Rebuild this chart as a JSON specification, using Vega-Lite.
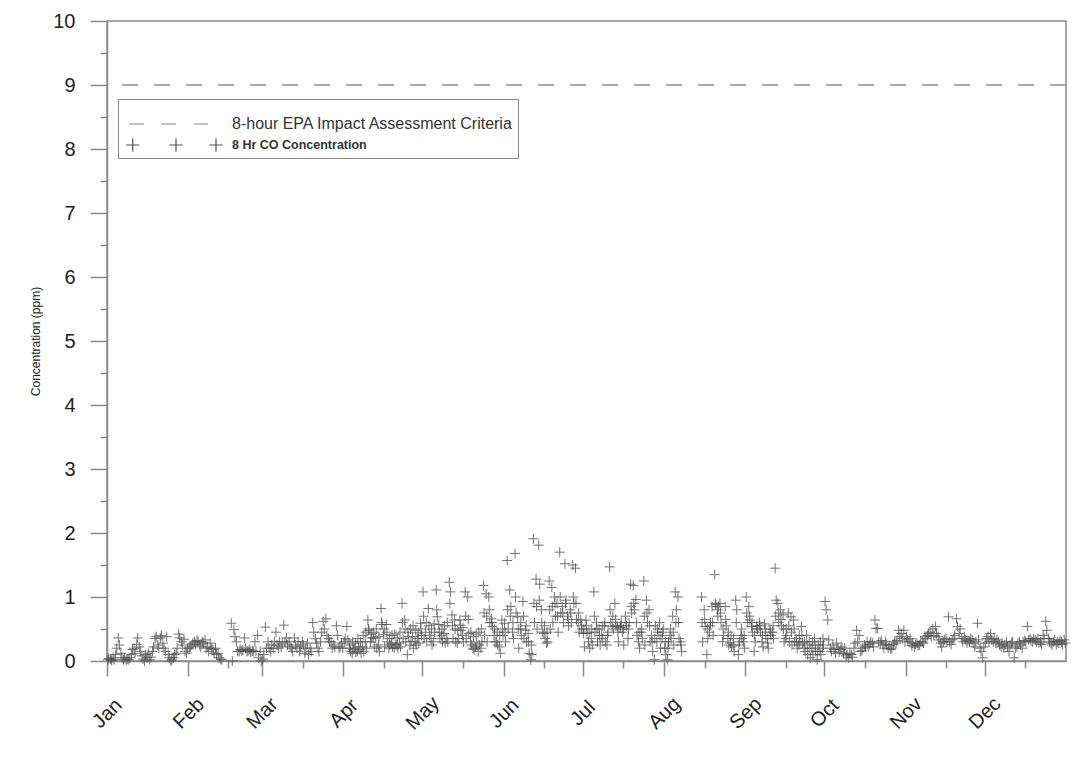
{
"$schema":"https://vega.github.io/schema/vega-lite/v6.json",
"width":959,"height":640,
"autosize":"none",
"padding":{"left":107,"top":21,"right":15,"bottom":114},
"background":"white",
"config":{"font":"Liberation Sans","view":{"stroke":"#8a8a8a","strokeWidth":1.5}},
"resolve":{"axis":{"x":"independent","y":"independent"}},
"layer":[
{"data":{"values":[{}]},
 "mark":{"type":"rule","strokeDash":[16,16],"strokeWidth":1.5},
 "encoding":{
  "y":{"datum":9,"type":"quantitative","scale":{"domain":[0,10],"nice":false},"axis":null},
  "color":{"datum":"8-hour EPA Impact Assessment Criteria","scale":{"domain":["8-hour EPA Impact Assessment Criteria","8 Hr CO Concentration"],"range":["#8c8c8c","#505050"]},
   "legend":{"orient":"none","legendX":11,"legendY":78,"title":" ","titleFontSize":6,"titlePadding":4,"padding":4,"strokeColor":"#8a8a8a","fillColor":"white","symbolSize":400,"symbolStrokeWidth":1.2,"labelOffset":88,"labelFontSize":16,"labelColor":"#333333","labelLimit":400,"rowPadding":2,
    "encode":{"symbols":{"update":{"shape":{"signal":"datum.value === '8 Hr CO Concentration' ? 'M-0.68,0H0.62M-0.03,-0.65V0.65M3.65,0H4.95M4.3,-0.65V0.65M7.65,0H8.95M8.3,-0.65V0.65' : 'M-0.4,0H1.1M2.8,0H4.3M6.1,0H7.5'"},"strokeDash":{"value":[]},"fill":{"value":"transparent"},"strokeWidth":{"value":1.2}}},
     "labels":{"update":{"fontSize":{"signal":"datum.value === '8 Hr CO Concentration' ? 12.5 : 16"},"fontWeight":{"signal":"datum.value === '8 Hr CO Concentration' ? 'bold' : 'normal'"}}}}}}
 }},
{"data":{"values":[
{"d":0.3,"c":0.02},{"d":0.7,"c":0.04},{"d":1.3,"c":0.03},{"d":1.7,"c":0.01},{"d":2.3,"c":0.05},{"d":2.7,"c":0.02},{"d":3.3,"c":0.1},{"d":3.7,"c":0.2},{"d":4.3,"c":0.36},{"d":4.7,"c":0.25},
{"d":5.3,"c":0.12},{"d":5.7,"c":0.05},{"d":6.3,"c":0.02},{"d":6.7,"c":0.05},{"d":7.3,"c":0.01},{"d":7.7,"c":0.03},{"d":8.3,"c":0.02},{"d":8.7,"c":0.05},{"d":9.3,"c":0.1},{"d":9.7,"c":0.18},
{"d":10.3,"c":0.2},{"d":10.7,"c":0.12},{"d":11.3,"c":0.26},{"d":11.7,"c":0.36},{"d":12.3,"c":0.22},{"d":12.7,"c":0.15},{"d":13.3,"c":0.08},{"d":13.7,"c":0.03},{"d":14.3,"c":0.0},{"d":14.7,"c":0.1},
{"d":15.3,"c":0.05},{"d":15.7,"c":0.12},{"d":16.3,"c":0.02},{"d":16.7,"c":0.06},{"d":17.3,"c":0.15},{"d":17.7,"c":0.22},{"d":18.3,"c":0.35},{"d":18.7,"c":0.38},{"d":19.3,"c":0.25},{"d":19.7,"c":0.2},
{"d":20.3,"c":0.36},{"d":20.7,"c":0.4},{"d":21.3,"c":0.28},{"d":21.7,"c":0.2},{"d":22.3,"c":0.15},{"d":22.7,"c":0.38},{"d":23.3,"c":0.1},{"d":23.7,"c":0.05},{"d":24.3,"c":0.0},{"d":24.7,"c":0.02},
{"d":25.3,"c":0.05},{"d":25.7,"c":0.1},{"d":26.3,"c":0.12},{"d":26.7,"c":0.2},{"d":27.3,"c":0.42},{"d":27.7,"c":0.36},{"d":28.3,"c":0.3},{"d":28.7,"c":0.25},{"d":29.3,"c":0.34},{"d":29.7,"c":0.15},
{"d":30.3,"c":0.12},{"d":30.7,"c":0.2},{"d":31.3,"c":0.2},{"d":31.7,"c":0.22},{"d":32.3,"c":0.25},{"d":32.7,"c":0.28},{"d":33.3,"c":0.3},{"d":33.7,"c":0.26},{"d":34.3,"c":0.32},{"d":34.7,"c":0.3},
{"d":35.3,"c":0.25},{"d":35.7,"c":0.22},{"d":36.3,"c":0.3},{"d":36.7,"c":0.28},{"d":37.3,"c":0.33},{"d":37.7,"c":0.2},{"d":38.3,"c":0.22},{"d":38.7,"c":0.15},{"d":39.3,"c":0.28},{"d":39.7,"c":0.2},
{"d":40.3,"c":0.18},{"d":40.7,"c":0.12},{"d":41.3,"c":0.2},{"d":41.7,"c":0.1},{"d":42.3,"c":0.12},{"d":42.7,"c":0.05},{"d":43.3,"c":0.03},{"d":43.7,"c":0.02},
{"d":47.3,"c":0.59},{"d":47.7,"c":0.0},{"d":48.3,"c":0.49},{"d":48.7,"c":0.38},{"d":49.3,"c":0.3},{"d":49.7,"c":0.15},
{"d":50.3,"c":0.15},{"d":50.7,"c":0.18},{"d":51.3,"c":0.16},{"d":51.7,"c":0.17},{"d":52.3,"c":0.36},{"d":52.7,"c":0.2},{"d":53.3,"c":0.15},{"d":53.7,"c":0.16},{"d":54.3,"c":0.18},{"d":54.7,"c":0.14},
{"d":55.3,"c":0.16},{"d":55.7,"c":0.15},{"d":56.3,"c":0.3},{"d":56.7,"c":0.15},{"d":57.3,"c":0.4},{"d":57.7,"c":0.05},{"d":58.3,"c":0.15},{"d":58.7,"c":0.0},{"d":59.3,"c":0.03},{"d":59.7,"c":0.1},
{"d":60.3,"c":0.53},{"d":60.7,"c":0.2},{"d":61.3,"c":0.3},{"d":61.7,"c":0.2},{"d":62.3,"c":0.15},{"d":62.7,"c":0.25},{"d":63.3,"c":0.2},{"d":63.7,"c":0.3},{"d":64.3,"c":0.45},{"d":64.7,"c":0.25},
{"d":65.3,"c":0.2},{"d":65.7,"c":0.3},{"d":66.3,"c":0.22},{"d":66.7,"c":0.28},{"d":67.3,"c":0.56},{"d":67.7,"c":0.3},{"d":68.3,"c":0.36},{"d":68.7,"c":0.25},{"d":69.3,"c":0.3},{"d":69.7,"c":0.22},
{"d":70.3,"c":0.2},{"d":70.7,"c":0.15},{"d":71.3,"c":0.36},{"d":71.7,"c":0.25},{"d":72.3,"c":0.2},{"d":72.7,"c":0.3},{"d":73.3,"c":0.15},{"d":73.7,"c":0.22},{"d":74.3,"c":0.3},{"d":74.7,"c":0.25},
{"d":75.3,"c":0.12},{"d":75.7,"c":0.2},{"d":76.3,"c":0.28},{"d":76.7,"c":0.1},{"d":77.3,"c":0.2},{"d":77.7,"c":0.15},{"d":78.3,"c":0.6},{"d":78.7,"c":0.45},{"d":79.3,"c":0.35},{"d":79.7,"c":0.28},
{"d":80.3,"c":0.2},{"d":80.7,"c":0.15},{"d":81.3,"c":0.3},{"d":81.7,"c":0.45},{"d":82.3,"c":0.62},{"d":82.7,"c":0.5},{"d":83.3,"c":0.66},{"d":83.7,"c":0.4},{"d":84.3,"c":0.35},{"d":84.7,"c":0.3},
{"d":85.3,"c":0.3},{"d":85.7,"c":0.2},{"d":86.3,"c":0.25},{"d":86.7,"c":0.22},{"d":87.3,"c":0.55},{"d":87.7,"c":0.4},{"d":88.3,"c":0.2},{"d":88.7,"c":0.22},{"d":89.3,"c":0.28},{"d":89.7,"c":0.2},
{"d":90.3,"c":0.3},{"d":90.7,"c":0.35},{"d":91.3,"c":0.54},{"d":91.7,"c":0.33},{"d":92.3,"c":0.2},{"d":92.7,"c":0.15},{"d":93.3,"c":0.12},{"d":93.7,"c":0.18},{"d":94.3,"c":0.2},{"d":94.7,"c":0.14},
{"d":95.3,"c":0.15},{"d":95.7,"c":0.22},{"d":96.3,"c":0.18},{"d":96.7,"c":0.12},{"d":97.3,"c":0.22},{"d":97.7,"c":0.15},{"d":98.3,"c":0.3},{"d":98.7,"c":0.2},{"d":99.3,"c":0.64},{"d":99.7,"c":0.48},
{"d":100.3,"c":0.3},{"d":100.7,"c":0.36},{"d":101.3,"c":0.36},{"d":101.7,"c":0.22},{"d":102.3,"c":0.36},{"d":102.7,"c":0.2},{"d":103.3,"c":0.25},{"d":103.7,"c":0.15},{"d":104.3,"c":0.82},{"d":104.7,"c":0.57},
{"d":105.3,"c":0.41},{"d":105.7,"c":0.22},{"d":106.3,"c":0.57},{"d":106.7,"c":0.3},{"d":107.3,"c":0.2},{"d":107.7,"c":0.25},{"d":108.3,"c":0.28},{"d":108.7,"c":0.22},{"d":109.3,"c":0.2},{"d":109.7,"c":0.26},
{"d":110.3,"c":0.25},{"d":110.7,"c":0.2},{"d":111.3,"c":0.28},{"d":111.7,"c":0.22},{"d":112.3,"c":0.9},{"d":112.7,"c":0.35},{"d":113.3,"c":0.64},{"d":113.7,"c":0.3},{"d":114.3,"c":0.1},{"d":114.7,"c":0.38},
{"d":115.3,"c":0.25},{"d":115.7,"c":0.3},{"d":116.3,"c":0.38},{"d":116.7,"c":0.2},{"d":117.3,"c":0.3},{"d":117.7,"c":0.25},{"d":118.3,"c":0.35},{"d":118.7,"c":0.28},{"d":119.3,"c":0.59},{"d":119.7,"c":0.4},
{"d":120.3,"c":1.08},{"d":120.7,"c":0.35},{"d":121.3,"c":0.45},{"d":121.7,"c":0.3},{"d":122.3,"c":0.82},{"d":122.7,"c":0.4},{"d":123.3,"c":0.35},{"d":123.7,"c":0.25},{"d":124.3,"c":0.3},{"d":124.7,"c":0.45},
{"d":125.3,"c":1.11},{"d":125.7,"c":0.69},{"d":126.3,"c":0.57},{"d":126.7,"c":0.35},{"d":127.3,"c":0.4},{"d":127.7,"c":0.3},{"d":128.3,"c":0.43},{"d":128.7,"c":0.28},{"d":129.3,"c":0.35},{"d":129.7,"c":0.3},
{"d":130.3,"c":1.23},{"d":130.7,"c":1.08},{"d":131.3,"c":0.72},{"d":131.7,"c":0.35},{"d":132.3,"c":0.64},{"d":132.7,"c":0.3},{"d":133.3,"c":0.28},{"d":133.7,"c":0.35},{"d":134.3,"c":0.64},{"d":134.7,"c":0.48},
{"d":135.3,"c":0.4},{"d":135.7,"c":0.3},{"d":136.3,"c":1.08},{"d":136.7,"c":0.35},{"d":137.3,"c":1.0},{"d":137.7,"c":0.43},{"d":138.3,"c":0.3},{"d":138.7,"c":0.25},{"d":139.3,"c":0.2},{"d":139.7,"c":0.18},
{"d":140.3,"c":0.22},{"d":140.7,"c":0.28},{"d":141.3,"c":0.15},{"d":141.7,"c":0.25},{"d":142.3,"c":0.2},{"d":142.7,"c":0.3},{"d":143.3,"c":1.18},{"d":143.7,"c":0.4},{"d":144.3,"c":1.05},{"d":144.7,"c":0.3},
{"d":145.3,"c":1.0},{"d":145.7,"c":0.6},{"d":146.3,"c":0.66},{"d":146.7,"c":0.54},{"d":147.3,"c":0.4},{"d":147.7,"c":0.3},{"d":148.3,"c":0.3},{"d":148.7,"c":0.25},{"d":149.3,"c":0.22},{"d":149.7,"c":0.12},
{"d":150.3,"c":0.64},{"d":150.7,"c":0.4},{"d":151.3,"c":0.59},{"d":151.7,"c":0.3},{"d":152.3,"c":1.57},{"d":152.7,"c":0.5},{"d":153.3,"c":1.11},{"d":153.7,"c":0.85},{"d":154.3,"c":0.45},{"d":154.7,"c":0.35},
{"d":155.3,"c":1.68},{"d":155.7,"c":0.75},{"d":156.3,"c":0.69},{"d":156.7,"c":0.2},{"d":157.3,"c":0.5},{"d":157.7,"c":0.4},{"d":158.3,"c":0.93},{"d":158.7,"c":0.35},{"d":159.3,"c":0.48},{"d":159.7,"c":0.3},
{"d":160.3,"c":0.43},{"d":160.7,"c":0.12},{"d":161.3,"c":0.02},{"d":161.7,"c":0.1},{"d":162.3,"c":1.91},{"d":162.7,"c":0.6},{"d":163.3,"c":1.28},{"d":163.7,"c":0.5},{"d":164.3,"c":1.81},{"d":164.7,"c":1.2},
{"d":165.3,"c":0.8},{"d":165.7,"c":0.45},{"d":166.3,"c":0.43},{"d":166.7,"c":0.35},{"d":167.3,"c":0.28},{"d":167.7,"c":0.3},{"d":168.3,"c":1.25},{"d":168.7,"c":0.5},{"d":169.3,"c":1.15},{"d":169.7,"c":0.6},
{"d":170.3,"c":1.0},{"d":170.7,"c":0.7},{"d":171.3,"c":0.9},{"d":171.7,"c":0.45},{"d":172.3,"c":1.7},{"d":172.7,"c":0.75},{"d":173.3,"c":0.85},{"d":173.7,"c":0.6},{"d":174.3,"c":1.52},{"d":174.7,"c":0.95},
{"d":175.3,"c":0.7},{"d":175.7,"c":0.55},{"d":176.3,"c":0.8},{"d":176.7,"c":0.6},{"d":177.3,"c":1.5},{"d":177.7,"c":0.9},{"d":178.3,"c":1.45},{"d":178.7,"c":0.65},{"d":179.3,"c":0.6},{"d":179.7,"c":0.45},
{"d":180.3,"c":0.64},{"d":180.7,"c":0.5},{"d":181.3,"c":0.43},{"d":181.7,"c":0.22},{"d":182.3,"c":0.64},{"d":182.7,"c":0.43},{"d":183.3,"c":0.3},{"d":183.7,"c":0.2},{"d":184.3,"c":0.35},{"d":184.7,"c":0.25},
{"d":185.3,"c":1.08},{"d":185.7,"c":0.45},{"d":186.3,"c":0.6},{"d":186.7,"c":0.3},{"d":187.3,"c":0.5},{"d":187.7,"c":0.25},{"d":188.3,"c":0.4},{"d":188.7,"c":0.35},{"d":189.3,"c":0.55},{"d":189.7,"c":0.3},
{"d":190.3,"c":0.25},{"d":190.7,"c":0.45},{"d":191.3,"c":1.47},{"d":191.7,"c":0.6},{"d":192.3,"c":0.54},{"d":192.7,"c":0.5},{"d":193.3,"c":0.9},{"d":193.7,"c":0.55},{"d":194.3,"c":0.54},{"d":194.7,"c":0.3},
{"d":195.3,"c":0.52},{"d":195.7,"c":0.6},{"d":196.3,"c":0.45},{"d":196.7,"c":0.25},{"d":197.3,"c":0.7},{"d":197.7,"c":0.55},{"d":198.3,"c":0.35},{"d":198.7,"c":0.6},{"d":199.3,"c":1.2},{"d":199.7,"c":0.75},
{"d":200.3,"c":1.18},{"d":200.7,"c":0.8},{"d":201.3,"c":0.96},{"d":201.7,"c":0.4},{"d":202.3,"c":0.3},{"d":202.7,"c":0.2},{"d":203.3,"c":0.45},{"d":203.7,"c":0.35},{"d":204.3,"c":1.25},{"d":204.7,"c":0.25},
{"d":205.3,"c":0.95},{"d":205.7,"c":0.6},{"d":206.3,"c":0.8},{"d":206.7,"c":0.3},{"d":207.3,"c":0.4},{"d":207.7,"c":0.15},{"d":208.3,"c":0.02},{"d":208.7,"c":0.55},{"d":209.3,"c":0.3},{"d":209.7,"c":0.45},
{"d":210.3,"c":0.6},{"d":210.7,"c":0.2},{"d":211.3,"c":0.35},{"d":211.7,"c":0.5},{"d":212.3,"c":0.2},{"d":212.7,"c":0.1},{"d":213.3,"c":0.02},{"d":213.7,"c":0.3},{"d":214.3,"c":0.4},{"d":214.7,"c":0.35},
{"d":215.3,"c":0.7},{"d":215.7,"c":0.25},{"d":216.3,"c":1.08},{"d":216.7,"c":0.8},{"d":217.3,"c":1.0},{"d":217.7,"c":0.35},{"d":218.3,"c":0.3},{"d":218.7,"c":0.15},
{"d":226.3,"c":1.0},{"d":226.7,"c":0.3},{"d":227.3,"c":0.8},{"d":227.7,"c":0.54},{"d":228.3,"c":0.1},{"d":228.7,"c":0.35},{"d":229.3,"c":0.45},{"d":229.7,"c":0.6},
{"d":230.3,"c":0.85},{"d":230.7,"c":0.4},{"d":231.3,"c":1.35},{"d":231.7,"c":0.88},{"d":232.3,"c":0.8},{"d":232.7,"c":0.85},{"d":233.3,"c":0.9},{"d":233.7,"c":0.6},{"d":234.3,"c":0.3},{"d":234.7,"c":0.4},
{"d":235.3,"c":0.85},{"d":235.7,"c":0.55},{"d":236.3,"c":0.35},{"d":236.7,"c":0.25},{"d":237.3,"c":0.28},{"d":237.7,"c":0.22},{"d":238.3,"c":0.25},{"d":238.7,"c":0.15},{"d":239.3,"c":0.95},{"d":239.7,"c":0.8},
{"d":240.3,"c":0.1},{"d":240.7,"c":0.3},{"d":241.3,"c":0.4},{"d":241.7,"c":0.35},{"d":242.3,"c":0.3},{"d":242.7,"c":0.2},{"d":243.3,"c":1.0},{"d":243.7,"c":0.6},{"d":244.3,"c":0.85},{"d":244.7,"c":0.64},
{"d":245.3,"c":0.54},{"d":245.7,"c":0.45},{"d":246.3,"c":0.15},{"d":246.7,"c":0.3},{"d":247.3,"c":0.55},{"d":247.7,"c":0.5},{"d":248.3,"c":0.6},{"d":248.7,"c":0.45},{"d":249.3,"c":0.3},{"d":249.7,"c":0.22},
{"d":250.3,"c":0.58},{"d":250.7,"c":0.4},{"d":251.3,"c":0.28},{"d":251.7,"c":0.2},{"d":252.3,"c":0.5},{"d":252.7,"c":0.4},{"d":253.3,"c":0.45},{"d":253.7,"c":0.35},{"d":254.3,"c":1.45},{"d":254.7,"c":0.95},
{"d":255.3,"c":0.9},{"d":255.7,"c":0.6},{"d":256.3,"c":0.8},{"d":256.7,"c":0.55},{"d":257.3,"c":0.72},{"d":257.7,"c":0.3},{"d":258.3,"c":0.35},{"d":258.7,"c":0.4},{"d":259.3,"c":0.75},{"d":259.7,"c":0.3},
{"d":260.3,"c":0.69},{"d":260.7,"c":0.25},{"d":261.3,"c":0.64},{"d":261.7,"c":0.3},{"d":262.3,"c":0.35},{"d":262.7,"c":0.2},{"d":263.3,"c":0.25},{"d":263.7,"c":0.3},{"d":264.3,"c":0.54},{"d":264.7,"c":0.28},
{"d":265.3,"c":0.2},{"d":265.7,"c":0.15},{"d":266.3,"c":0.4},{"d":266.7,"c":0.1},{"d":267.3,"c":0.3},{"d":267.7,"c":0.05},{"d":268.3,"c":0.2},{"d":268.7,"c":0.1},{"d":269.3,"c":0.35},{"d":269.7,"c":0.15},
{"d":270.3,"c":0.02},{"d":270.7,"c":0.25},{"d":271.3,"c":0.15},{"d":271.7,"c":0.1},{"d":272.3,"c":0.2},{"d":272.7,"c":0.25},{"d":273.3,"c":0.93},{"d":273.7,"c":0.8},{"d":274.3,"c":0.64},{"d":274.7,"c":0.33},
{"d":275.3,"c":0.2},{"d":275.7,"c":0.15},{"d":276.3,"c":0.25},{"d":276.7,"c":0.18},{"d":277.3,"c":0.12},{"d":277.7,"c":0.28},{"d":278.3,"c":0.2},{"d":278.7,"c":0.14},{"d":279.3,"c":0.18},{"d":279.7,"c":0.22},
{"d":280.3,"c":0.12},{"d":280.7,"c":0.2},{"d":281.3,"c":0.08},{"d":281.7,"c":0.1},{"d":282.3,"c":0.05},{"d":282.7,"c":0.12},{"d":283.3,"c":0.1},{"d":283.7,"c":0.06},{"d":284.3,"c":0.2},{"d":284.7,"c":0.28},
{"d":285.3,"c":0.48},{"d":285.7,"c":0.3},{"d":286.3,"c":0.4},{"d":286.7,"c":0.15},{"d":287.3,"c":0.16},{"d":287.7,"c":0.2},{"d":288.3,"c":0.25},{"d":288.7,"c":0.22},{"d":289.3,"c":0.3},{"d":289.7,"c":0.22},
{"d":290.3,"c":0.26},{"d":290.7,"c":0.3},{"d":291.3,"c":0.28},{"d":291.7,"c":0.22},{"d":292.3,"c":0.64},{"d":292.7,"c":0.51},{"d":293.3,"c":0.51},{"d":293.7,"c":0.3},{"d":294.3,"c":0.28},{"d":294.7,"c":0.32},
{"d":295.3,"c":0.25},{"d":295.7,"c":0.2},{"d":296.3,"c":0.3},{"d":296.7,"c":0.26},{"d":297.3,"c":0.2},{"d":297.7,"c":0.24},{"d":298.3,"c":0.18},{"d":298.7,"c":0.2},{"d":299.3,"c":0.26},{"d":299.7,"c":0.3},
{"d":300.3,"c":0.28},{"d":300.7,"c":0.32},{"d":301.3,"c":0.48},{"d":301.7,"c":0.38},{"d":302.3,"c":0.43},{"d":302.7,"c":0.35},{"d":303.3,"c":0.48},{"d":303.7,"c":0.3},{"d":304.3,"c":0.38},{"d":304.7,"c":0.33},
{"d":305.3,"c":0.3},{"d":305.7,"c":0.35},{"d":306.3,"c":0.24},{"d":306.7,"c":0.28},{"d":307.3,"c":0.22},{"d":307.7,"c":0.26},{"d":308.3,"c":0.28},{"d":308.7,"c":0.24},{"d":309.3,"c":0.25},{"d":309.7,"c":0.3},
{"d":310.3,"c":0.3},{"d":310.7,"c":0.28},{"d":311.3,"c":0.38},{"d":311.7,"c":0.35},{"d":312.3,"c":0.4},{"d":312.7,"c":0.43},{"d":313.3,"c":0.45},{"d":313.7,"c":0.38},{"d":314.3,"c":0.5},{"d":314.7,"c":0.4},
{"d":315.3,"c":0.54},{"d":315.7,"c":0.43},{"d":316.3,"c":0.38},{"d":316.7,"c":0.33},{"d":317.3,"c":0.28},{"d":317.7,"c":0.22},{"d":318.3,"c":0.3},{"d":318.7,"c":0.33},{"d":319.3,"c":0.35},{"d":319.7,"c":0.3},
{"d":320.3,"c":0.69},{"d":320.7,"c":0.3},{"d":321.3,"c":0.26},{"d":321.7,"c":0.33},{"d":322.3,"c":0.35},{"d":322.7,"c":0.4},{"d":323.3,"c":0.66},{"d":323.7,"c":0.54},{"d":324.3,"c":0.43},{"d":324.7,"c":0.5},
{"d":325.3,"c":0.35},{"d":325.7,"c":0.3},{"d":326.3,"c":0.38},{"d":326.7,"c":0.33},{"d":327.3,"c":0.28},{"d":327.7,"c":0.32},{"d":328.3,"c":0.3},{"d":328.7,"c":0.35},{"d":329.3,"c":0.33},{"d":329.7,"c":0.28},
{"d":330.3,"c":0.22},{"d":330.7,"c":0.3},{"d":331.3,"c":0.59},{"d":331.7,"c":0.33},{"d":332.3,"c":0.2},{"d":332.7,"c":0.15},{"d":333.3,"c":0.05},{"d":333.7,"c":0.22},{"d":334.3,"c":0.28},{"d":334.7,"c":0.35},
{"d":335.3,"c":0.38},{"d":335.7,"c":0.3},{"d":336.3,"c":0.43},{"d":336.7,"c":0.33},{"d":337.3,"c":0.3},{"d":337.7,"c":0.35},{"d":338.3,"c":0.28},{"d":338.7,"c":0.33},{"d":339.3,"c":0.3},{"d":339.7,"c":0.25},
{"d":340.3,"c":0.22},{"d":340.7,"c":0.28},{"d":341.3,"c":0.2},{"d":341.7,"c":0.25},{"d":342.3,"c":0.3},{"d":342.7,"c":0.22},{"d":343.3,"c":0.15},{"d":343.7,"c":0.25},{"d":344.3,"c":0.28},{"d":344.7,"c":0.3},
{"d":345.3,"c":0.05},{"d":345.7,"c":0.2},{"d":346.3,"c":0.22},{"d":346.7,"c":0.28},{"d":347.3,"c":0.3},{"d":347.7,"c":0.25},{"d":348.3,"c":0.2},{"d":348.7,"c":0.3},{"d":349.3,"c":0.32},{"d":349.7,"c":0.3},
{"d":350.3,"c":0.54},{"d":350.7,"c":0.33},{"d":351.3,"c":0.35},{"d":351.7,"c":0.32},{"d":352.3,"c":0.3},{"d":352.7,"c":0.35},{"d":353.3,"c":0.33},{"d":353.7,"c":0.3},{"d":354.3,"c":0.35},{"d":354.7,"c":0.28},
{"d":355.3,"c":0.3},{"d":355.7,"c":0.26},{"d":356.3,"c":0.4},{"d":356.7,"c":0.35},{"d":357.3,"c":0.62},{"d":357.7,"c":0.48},{"d":358.3,"c":0.35},{"d":358.7,"c":0.3},{"d":359.3,"c":0.28},{"d":359.7,"c":0.25},
{"d":360.3,"c":0.3},{"d":360.7,"c":0.33},{"d":361.3,"c":0.26},{"d":361.7,"c":0.3},{"d":362.3,"c":0.28},{"d":362.7,"c":0.32},{"d":363.3,"c":0.3},{"d":363.7,"c":0.26},{"d":364.3,"c":0.33},{"d":364.7,"c":0.28},
{"d":92.5,"c":0.25},{"d":93.5,"c":0.3},{"d":94.5,"c":0.28},{"d":95.5,"c":0.35},{"d":96.5,"c":0.3},{"d":97.5,"c":0.4},{"d":98.5,"c":0.45},{"d":99.5,"c":0.5},{"d":100.5,"c":0.42},
{"d":101.5,"c":0.45},{"d":102.5,"c":0.5},{"d":103.5,"c":0.38},{"d":104.5,"c":0.6},{"d":105.5,"c":0.5},{"d":106.5,"c":0.45},{"d":107.5,"c":0.35},{"d":108.5,"c":0.4},{"d":109.5,"c":0.42},{"d":110.5,"c":0.36},
{"d":111.5,"c":0.45},{"d":112.5,"c":0.6},{"d":113.5,"c":0.5},{"d":114.5,"c":0.45},{"d":115.5,"c":0.5},{"d":116.5,"c":0.55},{"d":117.5,"c":0.48},{"d":118.5,"c":0.44},{"d":119.5,"c":0.5},{"d":120.5,"c":0.7},
{"d":121.5,"c":0.6},{"d":122.5,"c":0.55},{"d":123.5,"c":0.5},{"d":124.5,"c":0.58},{"d":125.5,"c":0.8},{"d":126.5,"c":0.45},{"d":127.5,"c":0.5},{"d":128.5,"c":0.55},{"d":129.5,"c":0.6},{"d":130.5,"c":0.9},
{"d":131.5,"c":0.55},{"d":132.5,"c":0.5},{"d":133.5,"c":0.48},{"d":134.5,"c":0.56},{"d":135.5,"c":0.52},{"d":136.5,"c":0.7},{"d":137.5,"c":0.65},{"d":138.5,"c":0.45},{"d":139.5,"c":0.38},{"d":140.5,"c":0.42},
{"d":141.5,"c":0.45},{"d":142.5,"c":0.5},{"d":143.5,"c":0.75},{"d":144.5,"c":0.7},{"d":145.5,"c":0.8},{"d":146.5,"c":0.6},{"d":147.5,"c":0.5},{"d":148.5,"c":0.45},{"d":149.5,"c":0.4},{"d":150.5,"c":0.5},
{"d":151.5,"c":0.45},{"d":152.5,"c":0.8},{"d":153.5,"c":0.7},{"d":154.5,"c":0.6},{"d":155.5,"c":1.0},{"d":156.5,"c":0.5},{"d":157.5,"c":0.6},{"d":158.5,"c":0.7},{"d":159.5,"c":0.55},{"d":160.5,"c":0.3},
{"d":161.5,"c":0.25},{"d":162.5,"c":0.9},{"d":163.5,"c":0.85},{"d":164.5,"c":0.95},{"d":165.5,"c":0.6},{"d":166.5,"c":0.55},{"d":167.5,"c":0.45},{"d":168.5,"c":0.8},{"d":169.5,"c":0.85},{"d":170.5,"c":0.9},
{"d":171.5,"c":0.7},{"d":172.5,"c":1.0},{"d":173.5,"c":0.75},{"d":174.5,"c":0.9},{"d":175.5,"c":0.65},{"d":176.5,"c":0.75},{"d":177.5,"c":1.0},{"d":178.5,"c":0.9},{"d":179.5,"c":0.75},{"d":180.5,"c":0.55},
{"d":181.5,"c":0.5},{"d":182.5,"c":0.55},{"d":183.5,"c":0.45},{"d":184.5,"c":0.5},{"d":185.5,"c":0.7},{"d":186.5,"c":0.5},{"d":187.5,"c":0.4},{"d":188.5,"c":0.55},{"d":189.5,"c":0.6},{"d":190.5,"c":0.4},
{"d":191.5,"c":0.8},{"d":192.5,"c":0.7},{"d":193.5,"c":0.65},{"d":194.5,"c":0.45},{"d":195.5,"c":0.55},{"d":196.5,"c":0.5},{"d":197.5,"c":0.6},{"d":198.5,"c":0.5},{"d":199.5,"c":0.85},{"d":200.5,"c":0.9},
{"d":201.5,"c":0.6},{"d":202.5,"c":0.45},{"d":203.5,"c":0.5},{"d":204.5,"c":0.7},{"d":205.5,"c":0.75},{"d":206.5,"c":0.55},{"d":207.5,"c":0.3},{"d":208.5,"c":0.35},{"d":209.5,"c":0.5},{"d":210.5,"c":0.4},
{"d":211.5,"c":0.45},{"d":212.5,"c":0.3},{"d":213.5,"c":0.2},{"d":214.5,"c":0.5},{"d":215.5,"c":0.45},{"d":216.5,"c":0.6},{"d":217.5,"c":0.6},{"d":218.5,"c":0.25},
{"d":226.5,"c":0.6},{"d":227.5,"c":0.65},{"d":228.5,"c":0.5},{"d":229.5,"c":0.55},{"d":230.5,"c":0.6},{"d":231.5,"c":0.9},{"d":232.5,"c":0.7},{"d":233.5,"c":0.75},{"d":234.5,"c":0.5},{"d":235.5,"c":0.65},
{"d":236.5,"c":0.45},{"d":237.5,"c":0.4},{"d":238.5,"c":0.35},{"d":239.5,"c":0.6},{"d":240.5,"c":0.25},{"d":241.5,"c":0.5},{"d":242.5,"c":0.4},{"d":243.5,"c":0.75},{"d":244.5,"c":0.7},{"d":245.5,"c":0.6},
{"d":246.5,"c":0.4},{"d":247.5,"c":0.5},{"d":248.5,"c":0.55},{"d":249.5,"c":0.4},{"d":250.5,"c":0.5},{"d":251.5,"c":0.35},{"d":252.5,"c":0.45},{"d":253.5,"c":0.55},{"d":254.5,"c":0.7},{"d":255.5,"c":0.75},
{"d":256.5,"c":0.65},{"d":257.5,"c":0.5},{"d":258.5,"c":0.5},{"d":259.5,"c":0.55},{"d":260.5,"c":0.45},{"d":261.5,"c":0.5},{"d":262.5,"c":0.3},{"d":263.5,"c":0.4},{"d":264.5,"c":0.4},{"d":265.5,"c":0.3},
{"d":266.5,"c":0.25},{"d":267.5,"c":0.2},{"d":268.5,"c":0.3},{"d":269.5,"c":0.25},{"d":270.5,"c":0.15},{"d":271.5,"c":0.3},{"d":272.5,"c":0.35}
]},
 "mark":{"type":"point","shape":"M-1,0H1M0,-1V1","size":100,"filled":false,"strokeWidth":1,"opacity":0.8},
 "encoding":{
  "x":{"field":"d","type":"quantitative","scale":{"domain":[0,365],"nice":false,"zero":false},
   "axis":{"orient":"bottom","values":[0,31,59,90,120,151,181,212,243,273,304,334],"labelExpr":"timeFormat(datetime(2021,0,1+datum.value),'%b')","labelAngle":-45,"labelAlign":"center","labelBaseline":"middle","labelPadding":37,"labelFontSize":20,"labelColor":"#222222","tickSize":15,"tickColor":"#8a8a8a","tickWidth":1.5,"domainColor":"#8a8a8a","domainWidth":1.5,"grid":false,"title":null,"labelFlush":false,"labelOverlap":false,"labelBound":false}},
  "y":{"field":"c","type":"quantitative","scale":{"domain":[0,10],"nice":false},
   "axis":{"orient":"left","values":[0,1,2,3,4,5,6,7,8,9,10],"tickSize":17,"labelPadding":15,"labelFontSize":20,"labelColor":"#222222","tickColor":"#8a8a8a","tickWidth":1.5,"domainColor":"#8a8a8a","domainWidth":1.5,"grid":false,"labelFlush":false,"labelOverlap":false,"title":"Concentration (ppm)","titleFontSize":12,"titleFontWeight":"normal","titleColor":"#222222","titleX":-72,"titleY":320,"titleAngle":-90,"titleAlign":"center","titleBaseline":"middle"}},
  "color":{"datum":"8 Hr CO Concentration","scale":{"domain":["8-hour EPA Impact Assessment Criteria","8 Hr CO Concentration"],"range":["#8c8c8c","#505050"]},
   "legend":{"orient":"none","legendX":11,"legendY":78,"title":" ","titleFontSize":6,"titlePadding":4,"padding":4,"strokeColor":"#8a8a8a","fillColor":"white","symbolSize":400,"symbolStrokeWidth":1.2,"labelOffset":88,"labelFontSize":16,"labelColor":"#333333","labelLimit":400,"rowPadding":2,
    "encode":{"symbols":{"update":{"shape":{"signal":"datum.value === '8 Hr CO Concentration' ? 'M-0.68,0H0.62M-0.03,-0.65V0.65M3.65,0H4.95M4.3,-0.65V0.65M7.65,0H8.95M8.3,-0.65V0.65' : 'M-0.4,0H1.1M2.8,0H4.3M6.1,0H7.5'"},"strokeDash":{"value":[]},"fill":{"value":"transparent"},"strokeWidth":{"value":1.2}}},
     "labels":{"update":{"fontSize":{"signal":"datum.value === '8 Hr CO Concentration' ? 12.5 : 16"},"fontWeight":{"signal":"datum.value === '8 Hr CO Concentration' ? 'bold' : 'normal'"}}}}}}
 }},
{"data":{"values":[]},
 "mark":{"type":"point","opacity":0},
 "encoding":{
  "x":{"field":"d","type":"quantitative","scale":{"domain":[0,365],"nice":false,"zero":false},
   "axis":{"orient":"bottom","values":[46,74.5,105.5,135.5,166.5,196.5,227.5,258.5,288.5,319.5,349.5],"labels":false,"domain":false,"grid":false,"tickSize":7,"tickColor":"#8a8a8a","tickWidth":1.5,"title":null}},
  "y":{"field":"c","type":"quantitative","scale":{"domain":[0,10],"nice":false},
   "axis":{"orient":"left","values":[0.5,1.5,2.5,3.5,4.5,5.5,6.5,7.5,8.5,9.5],"labels":false,"domain":false,"grid":false,"tickSize":7,"tickColor":"#8a8a8a","tickWidth":1.5,"title":null}}
 }}
]
}
